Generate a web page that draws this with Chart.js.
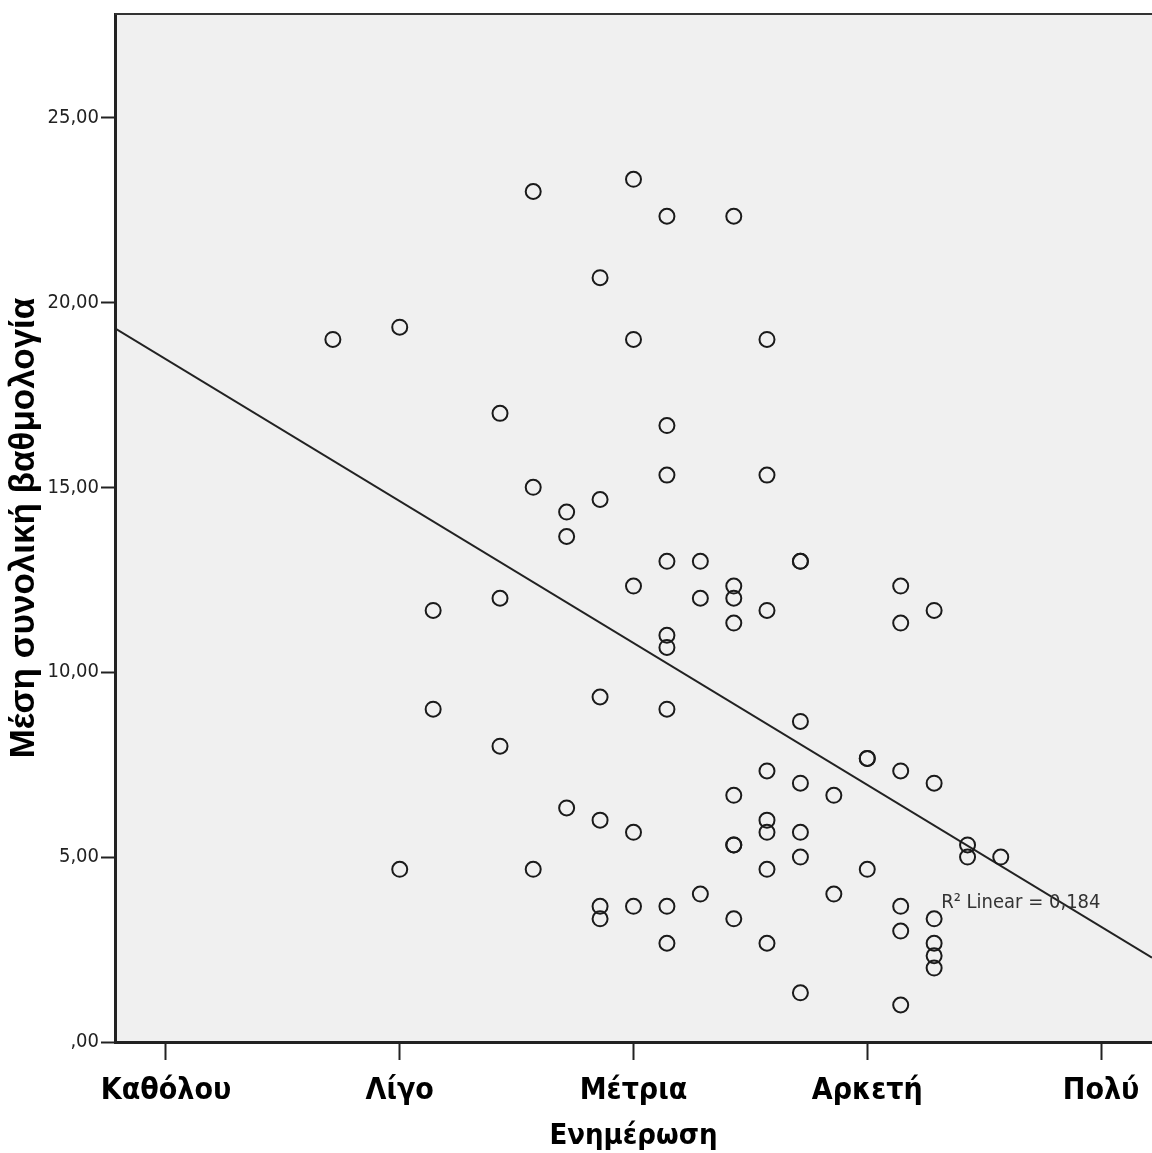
<!DOCTYPE html>
<html>
<head>
<meta charset="utf-8">
<script src="https://cdn.jsdelivr.net/npm/chart.js@4.4.1/dist/chart.umd.min.js"></script>
<style>
  html, body { margin: 0; padding: 0; background: #ffffff; }
  #wrap { width: 1152px; height: 1153px; position: relative; }
</style>
</head>
<body>
<div id="wrap"><canvas id="c" width="1152" height="1153"></canvas></div>
<script>
// ---- Data ----
const categories = ['Καθόλου', 'Λίγο', 'Μέτρια', 'Αρκετή', 'Πολύ'];
const categoryValues = [1, 2, 3, 4, 5];
const yTickValues = [0, 5, 10, 15, 20, 25];

// x positions of point columns (Ενημέρωση, mean of items)
const columnX = [1.714, 2.000, 2.143, 2.429, 2.571, 2.714, 2.857, 3.000, 3.143, 3.286,
                 3.429, 3.571, 3.714, 3.857, 4.000, 4.143, 4.286, 4.429, 4.571];
// y values (Μέση συνολική βαθμολογία) for each column
const columnY = [
  [19.00],
  [19.33, 4.67],
  [11.67, 9.00],
  [17.00, 12.00, 8.00],
  [23.00, 15.00, 4.67],
  [14.33, 13.67, 6.33],
  [20.67, 14.67, 9.33, 6.00, 3.67, 3.33],
  [23.33, 19.00, 12.33, 5.67, 3.67],
  [22.33, 16.67, 15.33, 13.00, 11.00, 10.67, 9.00, 3.67, 2.67],
  [13.00, 12.00, 4.00],
  [22.33, 12.33, 12.00, 11.33, 6.67, 5.33, 5.33, 3.33],
  [19.00, 15.33, 11.67, 7.33, 6.00, 5.67, 4.67, 2.67],
  [13.00, 13.00, 8.67, 7.00, 5.67, 5.00, 1.33],
  [6.67, 4.00],
  [7.67, 7.67, 4.67],
  [12.33, 11.33, 7.33, 3.67, 3.00, 1.00],
  [11.67, 7.00, 3.33, 2.67, 2.33, 2.00],
  [5.33, 5.00],
  [5.00]
];

// Fit line (R² Linear = 0,184)
const fitIntercept = 22.30;
const fitSlope = -3.836;
const r2Text = 'R² Linear = 0,184';

const xMin = 0.782, xMax = 5.218;
const yMin = 0, yMax = 27.8;

// ---- Build datasets ----
const points = [];
columnX.forEach((x, i) => columnY[i].forEach(y => points.push({ x: x, y: y })));
const fitPoints = [xMin, xMax].map(x => ({ x: x, y: fitIntercept + fitSlope * x }));

const narrow = "'Liberation Sans Narrow', 'Arial Narrow', 'DejaVu Sans Condensed', sans-serif";

const bgPlugin = {
  id: 'areaBg',
  beforeDraw(chart) {
    const { ctx, chartArea: a } = chart;
    ctx.save();
    ctx.fillStyle = '#f0f0f0';
    ctx.fillRect(a.left, a.top, a.right - a.left, a.bottom - a.top);
    ctx.restore();
  },
  afterDraw(chart) {
    const { ctx, chartArea: a } = chart;
    ctx.save();
    ctx.strokeStyle = '#333333';
    ctx.lineWidth = 2;
    ctx.beginPath();
    ctx.moveTo(a.left, a.top);
    ctx.lineTo(a.right, a.top);
    ctx.stroke();
    ctx.restore();
  }
};

const r2Plugin = {
  id: 'r2Label',
  afterDatasetsDraw(chart, args, opts) {
    const { ctx, scales } = chart;
    const px = scales.x.getPixelForValue(opts.x);
    const py = scales.y.getPixelForValue(opts.y);
    ctx.save();
    ctx.fillStyle = '#333333';
    ctx.font = '20px ' + narrow;
    ctx.textBaseline = 'alphabetic';
    ctx.textAlign = 'left';
    ctx.fillText(opts.text, px, py);
    ctx.restore();
  }
};

new Chart(document.getElementById('c'), {
  type: 'scatter',
  data: {
    datasets: [
      {
        type: 'line',
        data: fitPoints,
        borderColor: '#222222',
        borderWidth: 2,
        pointRadius: 0,
        fill: false,
        tension: 0,
        order: 2
      },
      {
        data: points,
        pointStyle: 'circle',
        pointRadius: 7.5,
        pointBorderWidth: 2,
        pointBorderColor: '#1a1a1a',
        pointBackgroundColor: 'rgba(0,0,0,0)',
        order: 1
      }
    ]
  },
  options: {
    responsive: false,
    animation: false,
    devicePixelRatio: 1,
    layout: { autoPadding: false, padding: { top: 13, right: 0, left: 0, bottom: 0 } },
    plugins: {
      legend: { display: false },
      tooltip: { enabled: false },
      r2Label: { text: r2Text, x: 4.316, y: 3.62 }
    },
    scales: {
      x: {
        type: 'linear',
        position: 'bottom',
        min: xMin,
        max: xMax,
        afterBuildTicks: (scale) => { scale.ticks = categoryValues.map(v => ({ value: v })); },
        afterFit: (scale) => { scale.height = 111; scale.paddingRight = 0; scale.paddingLeft = 0; },
        ticks: {
          autoSkip: false,
          maxRotation: 0,
          padding: 16,
          color: '#000000',
          font: { family: narrow, size: 30, weight: 'bold', lineHeight: 1.0 },
          callback: (v) => {
            const i = categoryValues.indexOf(v);
            return i >= 0 ? categories[i] : '';
          }
        },
        grid: { drawOnChartArea: false, drawTicks: true, tickLength: 18, tickWidth: 2, tickColor: '#222222' },
        border: { display: true, color: '#222222', width: 3 },
        title: {
          display: true,
          text: 'Ενημέρωση',
          color: '#000000',
          font: { family: narrow, size: 29, weight: 'bold', lineHeight: 1.0 },
          padding: { top: 0, bottom: 2 }
        }
      },
      y: {
        type: 'linear',
        min: yMin,
        max: yMax,
        afterBuildTicks: (scale) => { scale.ticks = yTickValues.map(v => ({ value: v })); },
        afterFit: (scale) => { scale.width = 115; },
        ticks: {
          padding: 2,
          color: '#222222',
          font: { family: narrow, size: 20, weight: 'normal' },
          callback: (v) => (v === 0 ? ',00' : v.toFixed(2).replace('.', ','))
        },
        grid: { drawOnChartArea: false, drawTicks: true, tickLength: 14, tickWidth: 2, tickColor: '#222222' },
        border: { display: true, color: '#222222', width: 3 },
        title: {
          display: true,
          text: 'Μέση συνολική βαθμολογία',
          color: '#000000',
          font: { family: "'Liberation Sans', Arial, sans-serif", size: 35, weight: 'bold', lineHeight: 1.0 },
          padding: { top: 7, bottom: 0 }
        }
      }
    }
  },
  plugins: [bgPlugin, r2Plugin]
});
</script>
</body>
</html>
